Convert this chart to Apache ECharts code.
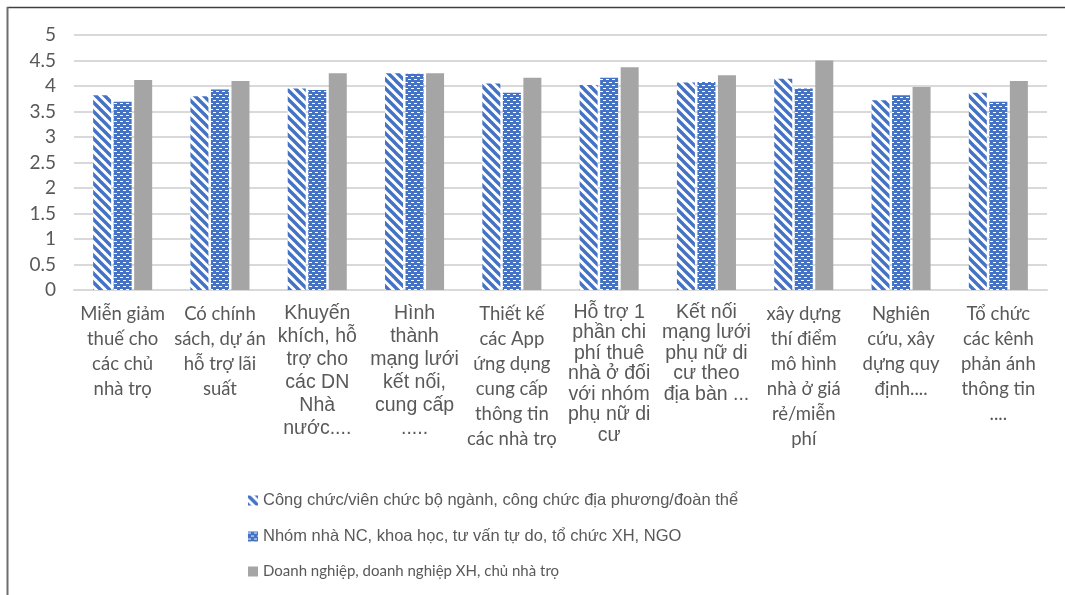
<!DOCTYPE html>
<html>
<head>
<meta charset="utf-8">
<script src="https://cdn.jsdelivr.net/npm/echarts@6/dist/echarts.min.js"></script>
<style>
  html, body { margin: 0; padding: 0; background: #fff; }
  #chart { width: 1065px; height: 595px; }
</style>
</head>
<body>
<div id="chart"></div>
<script>
// Nhóm giải pháp (trục hoành)
const categories = [
  'Miễn giảm\nthuế cho\ncác chủ\nnhà trọ',
  'Có chính\nsách, dự án\nhỗ trợ lãi\nsuất',
  'Khuyến\nkhích, hỗ\ntrợ cho\ncác DN\nNhà\nnước....',
  'Hình\nthành\nmạng lưới\nkết nối,\ncung cấp\n.....',
  'Thiết kế\ncác App\nứng dụng\ncung cấp\nthông tin\ncác nhà trọ',
  'Hỗ trợ 1\nphần chi\nphí thuê\nnhà ở đối\nvới nhóm\nphụ nữ di\ncư',
  'Kết nối\nmạng lưới\nphụ nữ di\ncư theo\nđịa bàn ...',
  'xây dựng\nthí điểm\nmô hình\nnhà ở giá\nrẻ/miễn\nphí',
  'Nghiên\ncứu, xây\ndựng quy\nđịnh....',
  'Tổ chức\ncác kênh\nphản ánh\nthông tin\n....'
];

const seriesNames = [
  'Công chức/viên chức bộ ngành, công chức địa phương/đoàn thể',
  'Nhóm nhà NC, khoa học, tư vấn tự do, tổ chức XH, NGO',
  'Doanh nghiệp, doanh nghiệp XH, chủ nhà trọ'
];

// Điểm trung bình theo từng nhóm đối tượng
const congChuc    = [3.82, 3.80, 3.95, 4.25, 4.05, 4.02, 4.07, 4.14, 3.72, 3.87];
const nhaNC       = [3.69, 3.93, 3.92, 4.24, 3.87, 4.16, 4.08, 3.95, 3.82, 3.69];
const doanhNghiep = [4.12, 4.10, 4.25, 4.25, 4.16, 4.37, 4.21, 4.50, 3.98, 4.10];

// Trục tung
const yMin = 0, yMax = 5, yStep = 0.5;

// Kiểu chữ của nhãn trục hoành theo từng cột
const labelStyleOf = ['c', 'c', 'a1', 'a1', 'c', 'a2', 'a2', 'c', 'c', 'c'];

const BLUE = '#4472C4';
const GREY = '#A5A5A5';

function stripePattern() {
  const n = 9;
  const c = document.createElement('canvas');
  c.width = n; c.height = n;
  const g = c.getContext('2d');
  g.fillStyle = '#fff';
  g.fillRect(0, 0, n, n);
  g.strokeStyle = BLUE;
  g.lineWidth = 3.4;
  for (const o of [-n, 0, n]) {
    g.beginPath();
    g.moveTo(o - 1, -1);
    g.lineTo(o + n + 1, n + 1);
    g.stroke();
  }
  return c;
}

function dashPattern() {
  const c = document.createElement('canvas');
  c.width = 6; c.height = 6;
  const g = c.getContext('2d');
  g.fillStyle = BLUE;
  g.fillRect(0, 0, 6, 6);
  g.fillStyle = '#fff';
  g.fillRect(0, 1, 3, 1);
  g.fillRect(3, 4, 3, 1);
  return c;
}

const chart = echarts.init(document.getElementById('chart'), null, { renderer: 'canvas' });

const labelColor = '#595959';

chart.setOption({
  backgroundColor: '#fff',
  animation: false,
  graphic: [
    { type: 'line', shape: { x1: 7, y1: 7.5, x2: 1065, y2: 7.5 }, style: { stroke: '#404040', lineWidth: 1.5 } },
    { type: 'line', shape: { x1: 7.5, y1: 7, x2: 7.5, y2: 595 }, style: { stroke: '#6e6e6e', lineWidth: 2 } }
  ],
  grid: { left: 74, right: 18, top: 35, bottom: 305, containLabel: false },
  legend: {
    orient: 'vertical',
    left: 243,
    top: 487,
    itemWidth: 10,
    itemHeight: 10,
    itemGap: 19,
    icon: 'rect',
    textStyle: { color: labelColor, fontSize: 16.5, fontFamily: 'Liberation Sans' },
    data: [
      { name: seriesNames[0] },
      { name: seriesNames[1] },
      { name: seriesNames[2], textStyle: { fontFamily: 'Lato', fontSize: 15 } }
    ]
  },
  xAxis: {
    type: 'category',
    data: categories,
    axisLine: { lineStyle: { color: '#d9d9d9', width: 2 } },
    axisTick: { show: false },
    axisLabel: {
      interval: 0,
      margin: 12,
      color: labelColor,
      formatter: function (value, idx) {
        const style = labelStyleOf[idx];
        return value.split('\n').map(l => '{' + style + '|' + l + '}').join('\n');
      },
      rich: {
        a1: { fontFamily: 'Liberation Sans', fontSize: 19.5, lineHeight: 23, color: labelColor },
        a2: { fontFamily: 'Liberation Sans', fontSize: 19.5, lineHeight: 20.5, color: labelColor },
        c: { fontFamily: 'Lato', fontSize: 18.5, lineHeight: 25, color: labelColor }
      }
    }
  },
  yAxis: {
    type: 'value',
    min: yMin,
    max: yMax,
    interval: yStep,
    axisLine: { show: false },
    axisTick: { show: false },
    splitLine: { lineStyle: { color: '#d9d9d9', width: 2 } },
    axisLabel: {
      margin: 18,
      color: labelColor,
      fontFamily: 'Lato',
      fontSize: 19,
      formatter: v => String(v)
    }
  },
  series: [
    {
      name: seriesNames[0], type: 'bar', data: congChuc,
      barWidth: 18, barGap: '14%',
      itemStyle: { color: { image: stripePattern(), repeat: 'repeat' } }
    },
    {
      name: seriesNames[1], type: 'bar', data: nhaNC,
      barWidth: 18, barGap: '14%',
      itemStyle: { color: { image: dashPattern(), repeat: 'repeat' } }
    },
    {
      name: seriesNames[2], type: 'bar', data: doanhNghiep,
      barWidth: 18, barGap: '14%',
      itemStyle: { color: GREY }
    }
  ]
});
</script>
</body>
</html>
